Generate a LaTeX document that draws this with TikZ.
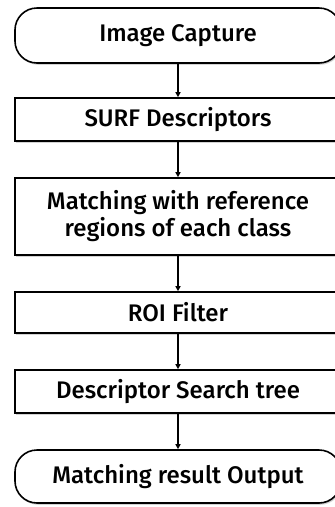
\documentclass[tikz,border=0pt]{standalone}
\usepackage{fontspec}
\setmainfont{Fira Sans Medium}
\usetikzlibrary{arrows.meta,shadows}

\begin{document}
\begin{tikzpicture}[
  x=1pt, y=-1pt,
  >={Triangle[length=5pt,width=5pt]},
  box/.style={draw, line width=1.6pt, fill=white, minimum width=326pt,
    align=center, font=\fontsize{24}{27}\selectfont, inner sep=0pt,
    drop shadow={opacity=0.35, shadow xshift=1.2pt, shadow yshift=-1.8pt}},
  term/.style={box, rounded corners=22pt},
  flow/.style={->, line width=1.6pt}
]
\useasboundingbox[clip] (0,0) rectangle (335,507);
% ---- the chain of steps ----
\node[term, minimum height=55pt] (cap)   at (178,35.5)  {Image Capture};
\node[box,  minimum height=43pt] (surf)  at (178,119.5) {SURF Descriptors};
\node[box,  minimum height=77pt] (match) at (178,216.5)
  {Matching with reference\\regions of each class};
\node[box,  minimum height=41pt] (roi)   at (178,312.5) {ROI Filter};
\node[box,  minimum height=43pt] (tree)  at (178,391.5) {Descriptor Search tree};
\node[term, minimum height=53pt] (out)   at (178,476.5) {Matching result Output};
% ---- arrows ----
\draw[flow] (cap)   -- (surf);
\draw[flow] (surf)  -- (match);
\draw[flow] (match) -- (roi);
\draw[flow] (roi)   -- (tree);
\draw[flow] (tree)  -- (out);
\end{tikzpicture}
\end{document}
